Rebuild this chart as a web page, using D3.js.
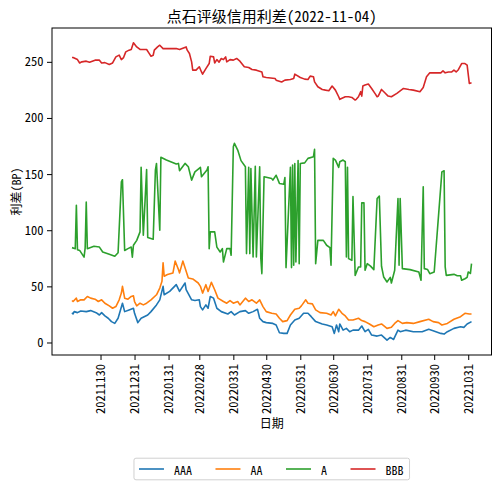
<!DOCTYPE html>
<html>
<head>
<meta charset="utf-8">
<script src="https://cdn.jsdelivr.net/npm/d3@7"></script>
<style>
  body { margin: 0; background: #fff; }
  text { font-family: "Noto Sans Mono CJK SC", "Noto Sans CJK SC", sans-serif; }
</style>
</head>
<body>
<div id="chart"></div>
<script>
const titleText = "点石评级信用利差(2022-11-04)";
const yLabel = "利差(BP)";
const xLabel = "日期";

const seriesNames = ["AAA", "AA", "A", "BBB"];
const seriesColors = ["#1f77b4", "#ff7f0e", "#2ca02c", "#d62728"];

const xTickLabels = ["20211130", "20211231", "20220131", "20220228", "20220331", "20220430",
  "20220531", "20220630", "20220731", "20220831", "20220930", "20221031"];
const yTicks = [0, 50, 100, 150, 200, 250];

// [date, spread in BP]
const aaa = [["20211104",26.6],["20211105",25.4],["20211106",27.5],["20211109",26.6],["20211112",28],["20211117",27.5],["20211121",28.4],["20211126",26.6],["20211129",24.5],["20211201",26.6],["20211204",23.7],["20211207",21.6],["20211210",18.6],["20211213",17],["20211216",21.6],["20211220",35],["20211222",27.5],["20211226",29],["20211230",30.5],["20211231",26],["20220103",17.7],["20220106",21.6],["20220112",24.5],["20220115",27.5],["20220120",33.5],["20220123",38],["20220126",50],["20220127",42.5],["20220201",45.5],["20220207",51.5],["20220210",45.5],["20220215",53],["20220216",47],["20220221",38],["20220224",37.4],["20220228",38],["20220301",32],["20220303",29],["20220306",33.5],["20220308",30.5],["20220310",41],["20220313",39.5],["20220316",30.5],["20220320",27.5],["20220326",25.4],["20220329",27.5],["20220401",24.5],["20220406",27.5],["20220411",28.4],["20220414",26],["20220418",27.5],["20220422",29.6],["20220424",21.6],["20220427",18.6],["20220430",17.7],["20220506",17],["20220509",15.6],["20220512",8.7],["20220516",8.1],["20220519",8.1],["20220522",15.6],["20220526",20],["20220530",21.6],["20220603",26],["20220607",26],["20220610",23],["20220614",18.6],["20220620",16.5],["20220624",15.6],["20220629",14],["20220701",8.1],["20220703",15.6],["20220705",9.6],["20220706",16.5],["20220709",11],["20220712",12.6],["20220715",9.6],["20220718",11],["20220723",11],["20220726",14.7],["20220729",9.6],["20220801",11.7],["20220804",6.6],["20220809",5.7],["20220813",6.6],["20220818",2.1],["20220821",4.5],["20220824",2.7],["20220828",11],["20220830",9.6],["20220904",11],["20220911",9.6],["20220919",9.6],["20220925",11.7],["20220929",10.5],["20221006",8.1],["20221009",7.5],["20221012",9.6],["20221018",12.6],["20221024",14],["20221027",13.5],["20221030",16.5],["20221103",18.6]];

const aa = [["20211104",37.4],["20211105",36.5],["20211108",39.5],["20211109",36.5],["20211112",38],["20211115",38],["20211118",41],["20211121",39.5],["20211125",38.6],["20211128",36.5],["20211201",38],["20211204",35],["20211208",32.6],["20211211",30.5],["20211214",32],["20211217",38],["20211219",44],["20211220",50],["20211222",39.5],["20211225",38.6],["20211228",41],["20211230",41.6],["20211231",36.5],["20220102",32.6],["20220105",35],["20220108",33.5],["20220111",35],["20220115",38],["20220120",42.5],["20220123",48.5],["20220125",54.5],["20220126",71],["20220127",59],["20220130",60.5],["20220204",62],["20220206",72.5],["20220209",65],["20220210",62],["20220213",72.5],["20220215",66.5],["20220218",57.5],["20220222",56.6],["20220227",53],["20220301",50],["20220303",44],["20220306",51.5],["20220308",45.5],["20220311",53.6],["20220314",47],["20220317",39.5],["20220322",36.5],["20220325",35],["20220328",37.4],["20220331",35],["20220404",36.5],["20220406",33.5],["20220411",39.5],["20220414",36.5],["20220417",38],["20220421",35],["20220424",38],["20220427",32],["20220430",27.5],["20220505",26],["20220509",25.4],["20220512",21.6],["20220515",18.6],["20220519",19.5],["20220522",24.5],["20220526",29.6],["20220530",30.5],["20220601",32.6],["20220605",38],["20220607",35],["20220611",34.4],["20220614",29],["20220618",26.6],["20220624",26],["20220628",24.5],["20220630",27.5],["20220702",23.7],["20220705",29.6],["20220708",26],["20220711",23.7],["20220714",20],["20220718",20],["20220723",21.6],["20220726",19.5],["20220729",18.6],["20220802",16.5],["20220806",14],["20220810",15.6],["20220813",16.5],["20220818",12.6],["20220822",13.5],["20220825",17],["20220828",19.5],["20220901",17],["20220905",17.7],["20220911",17],["20220917",18.6],["20220925",20.7],["20220929",18.6],["20221004",17.7],["20221007",15.6],["20221012",17],["20221018",20.7],["20221024",23],["20221028",26],["20221101",25.4],["20221103",25.4]];

const a = [["20211104",84.5],["20211107",83.6],["20211108",122.3],["20211109",82.7],["20211111",82],["20211115",76],["20211116",84],["20211117",125],["20211118",83.6],["20211124",85.7],["20211129",85],["20211202",80.6],["20211208",78.6],["20211213",76.8],["20211216",80],["20211219",143],["20211220",145],["20211222",82],["20211225",83.6],["20211228",85],["20211229",76],["20211230",86.6],["20220102",91],["20220105",98.5],["20220106",156],["20220108",95.5],["20220111",154],["20220112",93.5],["20220117",92],["20220119",153.6],["20220120",159.5],["20220123",100],["20220124",165],["20220129",162.5],["20220207",159],["20220209",159.5],["20220210",153],["20220215",159.5],["20220218",156.5],["20220221",144.6],["20220224",152],["20220301",156],["20220302",147.6],["20220307",153.6],["20220308",156.5],["20220309",83.6],["20220310",98.5],["20220314",98.5],["20220316",85],["20220319",80.6],["20220321",83.6],["20220322",71.7],["20220325",83.6],["20220328",83.6],["20220329",77.7],["20220331",174.4],["20220401",177.4],["20220404",171.4],["20220407",162],["20220411",156.5],["20220412",79.2],["20220414",156],["20220415",79.2],["20220416",155],["20220418",76.2],["20220420",157],["20220421",76.2],["20220424",156.5],["20220425",75.6],["20220426",61.3],["20220428",147.6],["20220505",146],["20220506",144.6],["20220509",149],["20220512",141.7],["20220516",141],["20220517",147],["20220518",66.7],["20220522",156],["20220523",66.7],["20220524",158],["20220525",68.8],["20220526",159.5],["20220527",71.7],["20220529",162],["20220530",70.2],["20220531",159.5],["20220604",160],["20220607",164],["20220612",165.5],["20220613",172],["20220614",70.2],["20220616",91],["20220621",91],["20220624",86.6],["20220627",84.5],["20220628",68.8],["20220630",164],["20220702",162.5],["20220705",156],["20220706",161],["20220709",162.5],["20220711",161],["20220712",76.2],["20220713",156],["20220714",74.7],["20220717",73.2],["20220718",130],["20220720",59.8],["20220723",67.3],["20220725",67.3],["20220726",124.4],["20220728",124.4],["20220729",64.3],["20220731",70.2],["20220803",68],["20220806",64.9],["20220809",128.3],["20220811",130.4],["20220813",67.9],["20220815",58.3],["20220818",53.9],["20220821",58],["20220822",53],["20220825",64.3],["20220828",128.3],["20220829",68.8],["20220830",128.3],["20220901",65.8],["20220908",64.9],["20220916",62.8],["20220918",55.4],["20220920",138.7],["20220921",65.8],["20220924",65],["20220926",61.3],["20220930",62.8],["20221007",152],["20221009",153],["20221010",67.3],["20221011",59.8],["20221018",60.7],["20221021",59.5],["20221024",59.5],["20221025",55.4],["20221028",56.8],["20221030",58],["20221031",62.8],["20221102",61.5],["20221103",70.2]];

const bbb = [["20211104",253.8],["20211105",253.8],["20211109",252],["20211111",249],["20211113",250],["20211117",250.6],["20211120",249.7],["20211125",251.5],["20211129",251.5],["20211201",249],["20211204",249.3],["20211208",247.6],["20211211",249],["20211214",254.4],["20211217",256],["20211219",252],["20211221",253.8],["20211223",258.9],["20211226",260.4],["20211228",261],["20211230",266.9],["20220102",263.3],["20220105",261],["20220111",261],["20220113",258],["20220115",255],["20220117",255.9],["20220118",260.4],["20220121",263.3],["20220123",264.8],["20220126",261.8],["20220129",261.8],["20220207",261.8],["20220210",261],["20220216",263.3],["20220217",260.4],["20220219",257.4],["20220221",250],["20220222",242.6],["20220225",242.6],["20220228",245.6],["20220302",241],["20220303",239],["20220306",244],["20220309",248.5],["20220310",255],["20220313",254.4],["20220314",249],["20220316",252],["20220318",249.7],["20220320",253],["20220322",252],["20220324",254.4],["20220325",250],["20220328",252],["20220331",251.5],["20220403",253],["20220406",250.6],["20220410",245.6],["20220414",245],["20220417",243.2],["20220421",242.6],["20220426",241],["20220427",236.7],["20220430",236.1],["20220508",235.2],["20220509",233.7],["20220514",232],["20220517",233.7],["20220522",234.3],["20220525",235.2],["20220526",239],["20220531",236.1],["20220604",234.6],["20220607",234.3],["20220609",237.3],["20220612",236.7],["20220613",232.2],["20220616",227.8],["20220620",225.4],["20220623",224.8],["20220626",224.3],["20220629",228.4],["20220702",224.8],["20220705",218.9],["20220706",216.6],["20220711",218.9],["20220714",218.9],["20220717",218.3],["20220720",216],["20220721",216.6],["20220723",218.9],["20220725",223.4],["20220726",219.5],["20220727",228.4],["20220729",229.3],["20220801",230.2],["20220804",226.3],["20220807",221.9],["20220809",218.9],["20220810",219.5],["20220813",225.4],["20220816",222.5],["20220819",219.5],["20220822",218.9],["20220827",221.9],["20220902",226.3],["20220907",225.4],["20220911",224.8],["20220917",223.4],["20220920",227.2],["20220923",236.7],["20220926",240.2],["20221006",240.2],["20221008",242],["20221010",240.2],["20221013",241],["20221016",241],["20221018",242.6],["20221020",241],["20221022",243],["20221025",248.5],["20221028",248.5],["20221030",247],["20221101",230.8],["20221103",231.4]];

const seriesData = [aaa, aa, a, bbb];

const width = 500;
const height = 488;
const marginTop = 28;
const marginRight = 8.5;
const marginBottom = 133;
const marginLeft = 52;

const parse = d3.timeParse("%Y%m%d");
const fmt = d3.timeFormat("%Y%m%d");

const svg = d3.select("#chart")
    .append("svg")
    .attr("width", width)
    .attr("height", height)
    .attr("viewBox", [0, 0, width, height]);

svg.append("rect").attr("width", width).attr("height", height).attr("fill", "#fff");

// matplotlib-like 5% margins around the data
const allPts = seriesData.flat();
const [t0, t1] = d3.extent(allPts, d => parse(d[0]));
const padT = (t1 - t0) * 0.05;
const x = d3.scaleTime([new Date(+t0 - padT), new Date(+t1 + padT)], [marginLeft, width - marginRight]);
const [v0, v1] = d3.extent(allPts, d => d[1]);
const padV = (v1 - v0) * 0.05;
const y = d3.scaleLinear([v0 - padV, v1 + padV], [height - marginBottom, marginTop]);

const line = d3.line()
    .x(d => x(parse(d[0])))
    .y(d => y(d[1]));

seriesData.forEach((data, i) => {
    svg.append("path")
        .attr("d", line(data))
        .attr("fill", "none")
        .attr("stroke", seriesColors[i])
        .attr("stroke-width", 1.6)
        .attr("stroke-linejoin", "round");
});

// x axis
svg.append("g")
    .attr("transform", `translate(0,${height - marginBottom})`)
    .call(d3.axisBottom(x).tickValues(xTickLabels.map(parse)).tickFormat(fmt).tickSize(5).tickSizeOuter(0))
    .call(g => g.select(".domain").remove())
    .call(g => g.selectAll(".tick line").attr("stroke", "#000"))
    .call(g => g.selectAll(".tick text")
        .attr("fill", "#000")
        .attr("font-size", 12.5)
        .attr("transform", "rotate(-90)")
        .attr("text-anchor", "end")
        .attr("x", -9)
        .attr("y", 0)
        .attr("dy", "0.35em"));

// y axis
svg.append("g")
    .attr("transform", `translate(${marginLeft},0)`)
    .call(d3.axisLeft(y).tickValues(yTicks).tickSize(5).tickPadding(3.5).tickSizeOuter(0))
    .call(g => g.select(".domain").remove())
    .call(g => g.selectAll(".tick line").attr("stroke", "#000"))
    .call(g => g.selectAll(".tick text")
        .attr("fill", "#000")
        .attr("font-size", 12.5));

// frame
svg.append("rect")
    .attr("x", marginLeft)
    .attr("y", marginTop)
    .attr("width", width - marginLeft - marginRight)
    .attr("height", height - marginTop - marginBottom)
    .attr("fill", "none")
    .attr("stroke", "#000")
    .attr("stroke-width", 1);

const cx = (marginLeft + width - marginRight) / 2;

svg.append("text")
    .attr("x", cx)
    .attr("y", 15.5)
    .attr("text-anchor", "middle")
    .attr("dominant-baseline", "central")
    .attr("font-size", 15)
    .text(titleText);

svg.append("text")
    .attr("transform", `translate(15,${(marginTop + height - marginBottom) / 2}) rotate(-90)`)
    .attr("text-anchor", "middle")
    .attr("dominant-baseline", "central")
    .attr("font-size", 12)
    .text(yLabel);

svg.append("text")
    .attr("x", cx)
    .attr("y", 422.5)
    .attr("text-anchor", "middle")
    .attr("dominant-baseline", "central")
    .attr("font-size", 12)
    .text(xLabel);

// legend, 4 columns below the axes
const legend = svg.append("g");
const legendY = 469;
const handleLen = 25, handleGap = 10, colSpacing = 23.5, padL = 5, padR = 6;
const box = legend.append("rect");
let cursor = 0;
const entries = seriesNames.map((name, i) => {
    const g = legend.append("g");
    g.append("line")
        .attr("x1", 0).attr("x2", handleLen)
        .attr("y1", legendY).attr("y2", legendY)
        .attr("stroke", seriesColors[i])
        .attr("stroke-width", 1.6);
    const t = g.append("text")
        .attr("x", handleLen + handleGap)
        .attr("y", legendY)
        .attr("dominant-baseline", "central")
        .attr("font-size", 12)
        .text(name);
    return { g, w: t.node().getComputedTextLength() };
});
const totalW = padL + d3.sum(entries, e => handleLen + handleGap + e.w) + colSpacing * (entries.length - 1) + padR;
const left = cx - totalW / 2;
cursor = left + padL;
entries.forEach(e => {
    e.g.attr("transform", `translate(${cursor},0)`);
    cursor += handleLen + handleGap + e.w + colSpacing;
});
box.attr("x", left).attr("y", legendY - 10.8)
    .attr("width", totalW).attr("height", 21.6)
    .attr("rx", 2)
    .attr("fill", "#fff")
    .attr("stroke", "#d0d0d0")
    .attr("stroke-width", 1);
</script>
</body>
</html>
